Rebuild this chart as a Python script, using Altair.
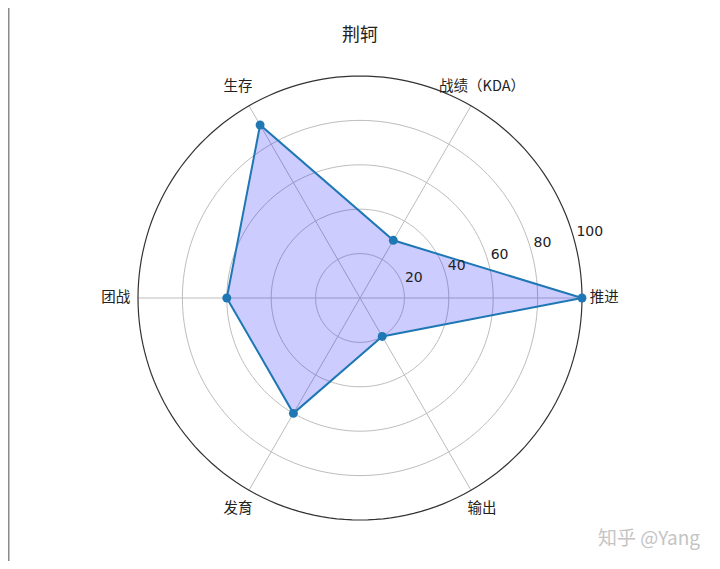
import altair as alt
import pandas as pd

# ---- data ----
title_text = "荆轲"
categories = ["推进", "战绩（KDA）", "生存", "团战", "发育", "输出"]
values = [100, 30, 90, 60, 60, 20]
r_ticks = [20, 40, 60, 80, 100]
watermark = "知乎 @Yang"

# ---- layout ----
N = len(categories)
PX = 2.22            # pixels per radial unit
W, H = 704, 553
CX, CY = 352, 290    # centre of the polar plot inside the svg
LABEL_R = 110
RLABEL_ANGLE = 15    # degrees
RING_STEPS = 180

xs = alt.Scale(domain=[-CX / PX, (W - CX) / PX], nice=False, zero=False)
ys = alt.Scale(domain=[-(H - CY) / PX, CY / PX], nice=False, zero=False)

ang = f"datum.i * 2 * PI / {N}"

df = pd.DataFrame({"cat": categories, "value": values, "i": list(range(N))})
poly = pd.concat([df, df.iloc[[0]].assign(i=N)], ignore_index=True)
rings = pd.DataFrame({"r": r_ticks})
ring_path = pd.DataFrame(
    [{"r": r, "k": k} for r in r_ticks for k in range(RING_STEPS + 1)]
)
spokes = pd.DataFrame({"i": list(range(N))})

X = lambda f: alt.X(f, type="quantitative", scale=xs, axis=None)
Y = lambda f: alt.Y(f, type="quantitative", scale=ys, axis=None)

ring_calc = dict(
    rx=f"datum.r * cos(datum.k * 2 * PI / {RING_STEPS})",
    ry=f"datum.r * sin(datum.k * 2 * PI / {RING_STEPS})",
)

grid_rings = alt.Chart(ring_path).transform_filter("datum.r < 100").transform_calculate(**ring_calc).mark_line(
    color="#bdbdbd", strokeWidth=1
).encode(x=X("rx"), y=Y("ry"), detail="r:N", order="k:Q")

outer_ring = alt.Chart(ring_path).transform_filter("datum.r == 100").transform_calculate(**ring_calc).mark_line(
    color="#333333", strokeWidth=1.2
).encode(x=X("rx"), y=Y("ry"), detail="r:N", order="k:Q")

spoke_lines = alt.Chart(spokes).transform_calculate(
    z="0", sx=f"100 * cos({ang})", sy=f"100 * sin({ang})"
).mark_rule(color="#bdbdbd", strokeWidth=1).encode(
    x=X("z"), y=Y("z"), x2="sx:Q", y2="sy:Q"
)

fill_poly = alt.Chart(poly).transform_calculate(
    px=f"datum.value * cos({ang})", py=f"datum.value * sin({ang})"
).mark_line(stroke="#1f77b4", strokeWidth=2, fill="#0000ff", fillOpacity=0.2).encode(
    x=X("px"), y=Y("py"), order="i:Q"
)

pts = alt.Chart(df).transform_calculate(
    px=f"datum.value * cos({ang})", py=f"datum.value * sin({ang})"
).mark_circle(color="#1f77b4", opacity=1, size=80).encode(x=X("px"), y=Y("py"))

cat_labels = alt.Chart(df).transform_calculate(
    lx=f"{LABEL_R} * cos({ang})", ly=f"{LABEL_R} * sin({ang})"
).mark_text(font="Noto Sans CJK TC", fontSize=14.5, color="#222222", align="center", baseline="middle").encode(
    x=X("lx"), y=Y("ly"), text="cat:N"
)

r_labels = alt.Chart(rings).transform_calculate(
    lx=f"datum.r * cos({RLABEL_ANGLE} * PI / 180)", ly=f"datum.r * sin({RLABEL_ANGLE} * PI / 180)"
).mark_text(font="DejaVu Sans", fontSize=14, color="#222222", align="left", baseline="bottom", dx=2, dy=-2).encode(
    x=X("lx"), y=Y("ly"), text="r:Q"
)

title = alt.Chart(pd.DataFrame({"t": [title_text]})).mark_text(
    font="Noto Sans CJK SC", fontSize=18, color="#222222", align="center", baseline="middle"
).encode(x=alt.value(CX), y=alt.value(28), text="t:N")

wm = alt.Chart(pd.DataFrame({"t": [watermark]})).mark_text(
    font="Noto Sans CJK SC", fontSize=19, color="#c4c4c4", align="right", baseline="middle"
).encode(x=alt.value(692), y=alt.value(531), text="t:N")

border = alt.Chart(pd.DataFrame({"a": [0]})).mark_rule(color="#8a8a8a", strokeWidth=1.5).encode(
    x=alt.value(0.75), y=alt.value(0), y2=alt.value(H)
)

chart = alt.layer(
    grid_rings, spoke_lines, outer_ring, fill_poly, pts, cat_labels, r_labels, title, wm, border
).properties(width=W, height=H, autosize="none", padding=0).configure_view(strokeWidth=0)

chart.save("out.html", embed_options={"renderer": "svg", "actions": False})
